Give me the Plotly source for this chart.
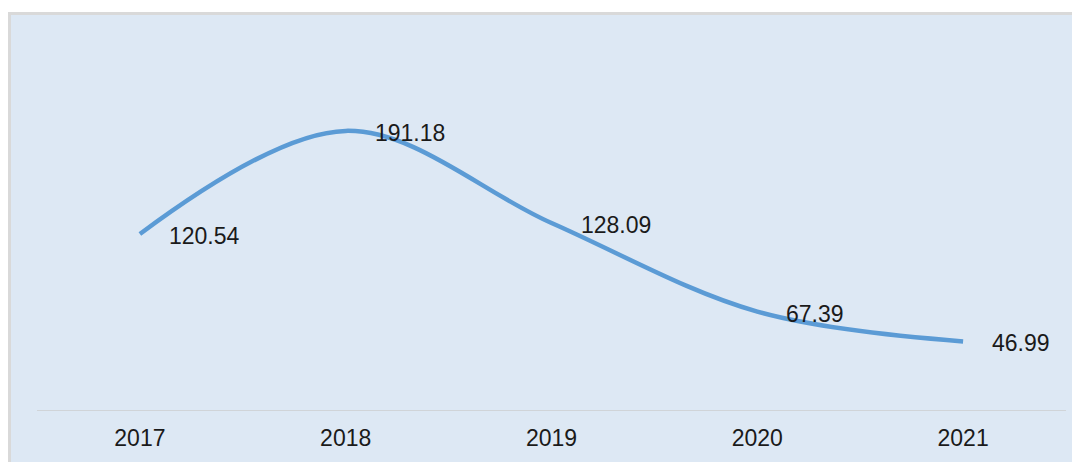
import plotly.graph_objects as go

years = ["2017", "2018", "2019", "2020", "2021"]
values = [120.54, 191.18, 128.09, 67.39, 46.99]
labels = ["120.54", "191.18", "128.09", "67.39", "46.99"]

# the page puts the figure 8px in from the top-left corner
W, H = 1080, 462
ml, mr, mt, mb = 29, 22, 37, 60
pw = W - ml - mr
ph = H - mt - mb

FONT = "Liberation Sans, Arial"


def px_x(p):
    return (p - ml) / pw


def px_y(p):
    return (H - mb - p) / ph


fig = go.Figure()
fig.add_trace(go.Scatter(
    x=years,
    y=values,
    mode="lines",
    line=dict(color="#5b9bd5", width=4.5, shape="spline", smoothing=1),
    hoverinfo="skip",
))

# category axis: place labels by index so "2017" isn't read as a position
for i, (v, t) in enumerate(zip(values, labels)):
    fig.add_annotation(
        x=i, y=v, xref="x", yref="y", text=t, showarrow=False,
        xanchor="left", yanchor="middle", xshift=27, yshift=-2,
        font=dict(family=FONT, size=23, color="#1a1a1a"),
    )

# light blue panel with grey border on top/left
fig.add_shape(type="rect", xref="paper", yref="paper", layer="below",
              x0=px_x(0), x1=px_x(1080), y0=px_y(462), y1=px_y(4),
              fillcolor="#d9d9d9", line=dict(width=0))
fig.add_shape(type="rect", xref="paper", yref="paper", layer="below",
              x0=px_x(3), x1=px_x(1080), y0=px_y(462), y1=px_y(7),
              fillcolor="#dde8f4", line=dict(width=0))

fig.update_xaxes(
    type="category", range=[-0.5, 4.5],
    showline=True, linecolor="#d0d4d8", linewidth=1,
    showgrid=False, ticks="", ticklen=0, ticklabelstandoff=7,
    tickfont=dict(family=FONT, size=23, color="#1a1a1a"),
)
fig.update_yaxes(range=[0, 250], showticklabels=False, showline=False,
                 showgrid=False, zeroline=False, ticks="")

fig.update_layout(
    width=W, height=H,
    margin=dict(l=ml, r=mr, t=mt, b=mb),
    paper_bgcolor="white",
    plot_bgcolor="rgba(0,0,0,0)",
    showlegend=False,
)

fig.write_html("out.html")
